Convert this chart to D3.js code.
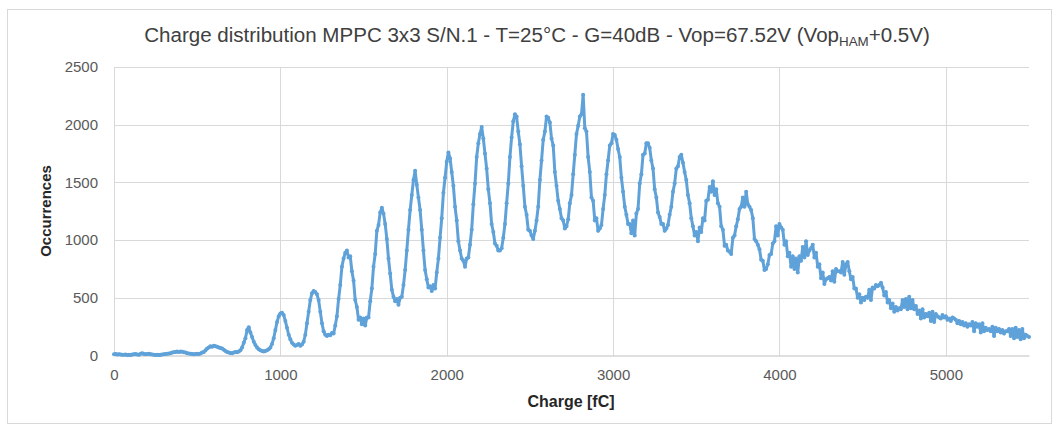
<!DOCTYPE html>
<html><head><meta charset="utf-8">
<script src="https://cdn.jsdelivr.net/npm/d3@7"></script>
<style>
html,body{margin:0;padding:0;background:#fff;}
svg{display:block;font-family:"Liberation Sans",Arial,sans-serif;}
</style></head>
<body><svg id="c" width="1057" height="429"></svg>
<script>
// ---- data ----
const binWidth = 10; // fC per bin, first bin at 0 fC
const occurrences = [
10,12,8,10,9,7,6,8,5,6,
5,8,10,12,8,6,15,20,14,10,
12,15,10,8,6,5,7,5,6,8,
10,12,15,18,20,25,28,30,35,30,
35,32,28,25,20,18,15,12,10,12,
15,12,18,25,30,45,60,70,80,75,
85,80,75,70,65,60,50,40,30,25,
22,20,25,30,28,35,45,70,110,150,
220,245,200,160,120,90,70,55,45,40,
35,40,45,55,70,100,150,220,290,340,
365,370,350,300,240,180,140,110,95,85,
90,100,85,95,120,180,280,380,480,540,
560,550,530,480,380,280,210,180,170,180,
175,195,190,260,340,490,610,770,840,890,
910,850,860,730,650,480,420,310,330,270,
320,260,330,330,470,580,770,880,1080,1130,
1240,1280,1230,1140,1010,840,710,570,510,470,
490,440,500,510,610,740,910,1090,1260,1390,
1520,1600,1480,1370,1260,1090,910,740,660,590,
600,560,610,580,720,840,1020,1190,1410,1540,
1680,1760,1710,1590,1470,1290,1170,990,910,840,
820,770,840,850,960,1090,1310,1490,1720,1840,
1920,1980,1880,1750,1620,1440,1320,1140,1070,970,
950,910,910,930,1020,1140,1320,1490,1720,1890,
2030,2090,2070,1940,1830,1640,1470,1290,1220,1090,
1080,1040,1010,1080,1170,1290,1520,1690,1870,1940,
2070,2060,2020,1880,1820,1590,1470,1340,1270,1190,
1170,1100,1120,1180,1320,1390,1570,1740,1920,1990,
2070,2090,2260,1970,1940,1720,1590,1370,1340,1170,
1190,1080,1100,1130,1270,1390,1570,1690,1820,1840,
1920,1910,1870,1790,1720,1540,1420,1290,1220,1140,
1140,1060,1170,1040,1230,1270,1490,1570,1740,1750,
1840,1840,1800,1690,1620,1440,1370,1240,1200,1140,
1140,1080,1100,1130,1220,1290,1420,1490,1620,1640,
1720,1740,1670,1590,1520,1390,1320,1190,1120,1040,
1070,990,1110,1070,1190,1170,1340,1350,1460,1420,
1510,1390,1440,1320,1290,1120,1090,950,960,910,
900,880,1020,1040,1120,1180,1270,1290,1370,1290,
1420,1310,1290,1260,1190,1010,990,960,920,830,
820,740,750,790,870,880,970,990,1120,1040,
1140,1110,1090,960,990,860,890,770,860,750,
840,720,860,820,940,850,990,870,910,930,
960,850,890,770,790,670,720,620,660,670,
680,650,730,640,750,730,730,720,810,700,
790,810,730,660,680,580,580,500,530,460,
500,480,510,500,570,480,590,580,610,600,
610,630,590,520,550,460,480,410,450,380,
420,390,410,400,480,420,490,400,510,410,
480,400,430,360,390,320,400,330,360,340,
370,300,380,290,360,340,330,320,350,330,
340,310,320,300,330,320,310,280,300,270,
290,260,280,250,270,260,290,210,280,250,
270,200,280,210,240,220,230,210,250,170,
240,210,230,200,220,190,210,210,230,170,
230,150,240,160,220,140,230,150,180,170,
160
];
const xTicks = [0,1000,2000,3000,4000,5000];
const yTicks = [0,500,1000,1500,2000,2500];
const titleMain = "Charge distribution MPPC 3x3 S/N.1 - T=25°C - G=40dB - Vop=67.52V (Vop";
const titleSub = "HAM";
const titleEnd = "+0.5V)";
const xTitle = "Charge [fC]";
const yTitle = "Occurrences";

// ---- drawing ----
const svg = d3.select("#c");
const W = 1057, H = 429;
const plot = {left:114, right:1029, top:67, bottom:355.5};

svg.append("rect").attr("x",0).attr("y",0).attr("width",W).attr("height",H).attr("fill","#fff");
svg.append("rect").attr("x",7.5).attr("y",9.5).attr("width",1044).attr("height",414)
  .attr("fill","#fff").attr("stroke","#d9d9d9").attr("stroke-width",1);

const x = d3.scaleLinear().domain([0,5500]).range([plot.left, plot.right]);
const y = d3.scaleLinear().domain([0,2500]).range([plot.bottom, plot.top]);
const fmt = d3.format("d");

// gridlines
const grid = svg.append("g");
grid.selectAll("line.h").data(yTicks.filter(d=>d>0)).join("line")
  .attr("x1",plot.left).attr("x2",plot.right)
  .attr("y1",d=>Math.round(y(d))+0.5).attr("y2",d=>Math.round(y(d))+0.5)
  .attr("stroke","#d9d9d9").attr("stroke-width",1);
grid.selectAll("line.v").data(xTicks).join("line")
  .attr("y1",plot.top).attr("y2",plot.bottom)
  .attr("x1",d=>Math.round(x(d))+0.5).attr("x2",d=>Math.round(x(d))+0.5)
  .attr("stroke","#d9d9d9").attr("stroke-width",1);

// x axis
const xAxis = svg.append("g").attr("transform",`translate(0,${plot.bottom})`)
  .call(d3.axisBottom(x).tickValues(xTicks).tickFormat(fmt).tickSize(0).tickPadding(14));
xAxis.select(".domain").attr("stroke","#bfbfbf").attr("stroke-width",1.2);
xAxis.selectAll("text").attr("fill","#595959").attr("font-size","15px")
  .attr("font-family","Liberation Sans, Arial, sans-serif");

// y axis
const yAxis = svg.append("g").attr("transform",`translate(${plot.left},0)`)
  .call(d3.axisLeft(y).tickValues(yTicks).tickFormat(fmt).tickSize(0).tickPadding(16));
yAxis.select(".domain").remove();
yAxis.selectAll("text").attr("fill","#595959").attr("font-size","15px")
  .attr("font-family","Liberation Sans, Arial, sans-serif");

// series
const data = occurrences.map((v,i)=>({c:i*binWidth, v:v}));
const line = d3.line().x(d=>x(d.c)).y(d=>y(d.v));
svg.append("path").datum(data).attr("d",line)
  .attr("fill","none").attr("stroke","#5fa2d9").attr("stroke-width",3)
  .attr("stroke-linejoin","round");
svg.append("g").selectAll("circle").data(data).join("circle")
  .attr("cx",d=>x(d.c)).attr("cy",d=>y(d.v)).attr("r",2).attr("fill","#5fa2d9");

// title
const t = svg.append("text").attr("x",537).attr("y",42).attr("text-anchor","middle")
  .attr("fill","#404040").attr("font-size","17px");
t.append("tspan").text(titleMain);
t.append("tspan").attr("font-size","11px").attr("dy",4).text(titleSub);
t.append("tspan").attr("dy",-4).text(titleEnd);
const tw = t.node().getComputedTextLength();
const fs = 17*786/tw;
t.attr("font-size",fs+"px");
t.select("tspan:nth-child(2)").attr("font-size",(fs*0.65)+"px");

// axis titles
svg.append("text").attr("x",571).attr("y",407).attr("text-anchor","middle")
  .attr("font-weight","bold").attr("font-size","16px").attr("fill","#262626").text(xTitle);
svg.append("text").attr("transform","translate(51,211) rotate(-90)").attr("text-anchor","middle")
  .attr("font-weight","bold").attr("font-size","15px").attr("fill","#262626").text(yTitle);
</script></body></html>
